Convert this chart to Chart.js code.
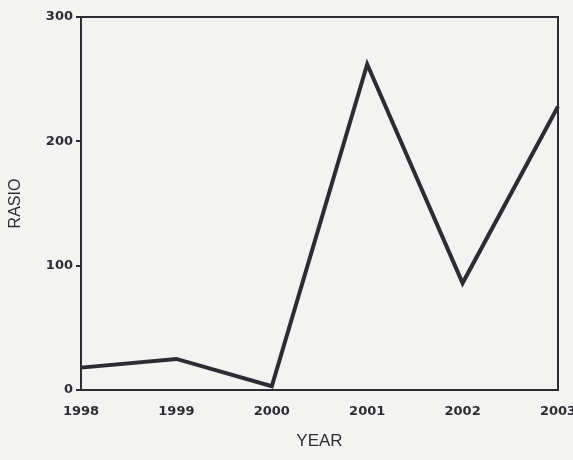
<!DOCTYPE html>
<html>
<head>
<meta charset="utf-8">
<script src="https://cdn.jsdelivr.net/npm/chart.js@4"></script>
<style>
  html, body { margin: 0; padding: 0; background: #f3f3f1; }
  #wrap { width: 573px; height: 460px; }
</style>
</head>
<body>
<div id="wrap"><canvas id="chart"></canvas></div>
<script>
// data
const years = ["1998", "1999", "2000", "2001", "2002", "2003"];
const rasio = [18, 25, 3, 262, 86, 228];
const yTicks = [0, 100, 200, 300];

// draws the full box round the plot area
const boxPlugin = {
    id: "box",
    afterDraw(chart) {
        const a = chart.chartArea;
        const ctx = chart.ctx;
        ctx.save();
        ctx.strokeStyle = "#2e2c33";
        ctx.lineWidth = 2;
        ctx.strokeRect(a.left, a.top, a.right - a.left, a.bottom - a.top);
        ctx.restore();
    }
};

const tickFont = { family: "DejaVu Sans", size: 13, weight: "bold" };

new Chart(document.getElementById("chart"), {
    type: "line",
    data: {
        labels: years,
        datasets: [{
            data: rasio,
            borderColor: "#2e2c33",
            borderWidth: 4,
            pointRadius: 0,
            tension: 0,
            fill: false
        }]
    },
    options: {
        responsive: true,
        maintainAspectRatio: false,
        animation: false,
        layout: { padding: { top: 17, right: 15, left: 6, bottom: 4 } },
        plugins: { legend: { display: false }, tooltip: { enabled: false } },
        scales: {
            x: {
                offset: false,
                grid: { display: false, drawOnChartArea: false },
                border: { display: false },
                ticks: { color: "#2e2c33", font: tickFont, maxRotation: 0, padding: 6 },
                title: {
                    display: true,
                    text: "YEAR",
                    color: "#2e2c33",
                    font: { family: "Liberation Sans", size: 17 },
                    padding: { top: 12 }
                },
                afterFit(scale) {
                    scale.height = 66;
                    // let the end labels run past the plot edge, as in the scan
                    scale.paddingLeft = 0;
                    scale.paddingRight = 0;
                }
            },
            y: {
                min: 0,
                max: 300,
                afterBuildTicks(scale) { scale.ticks = yTicks.map(v => ({ value: v })); },
                grid: { drawOnChartArea: false, tickLength: 5, color: "#2e2c33", lineWidth: 2 },
                border: { display: false },
                ticks: { color: "#2e2c33", font: tickFont, padding: 3 },
                title: {
                    display: true,
                    text: "RASIO",
                    color: "#2e2c33",
                    font: { family: "Liberation Sans", size: 16 },
                    padding: { top: 0, bottom: 0 }
                },
                afterFit(scale) { scale.width = 75; }
            }
        }
    },
    plugins: [boxPlugin]
});
</script>
</body>
</html>
